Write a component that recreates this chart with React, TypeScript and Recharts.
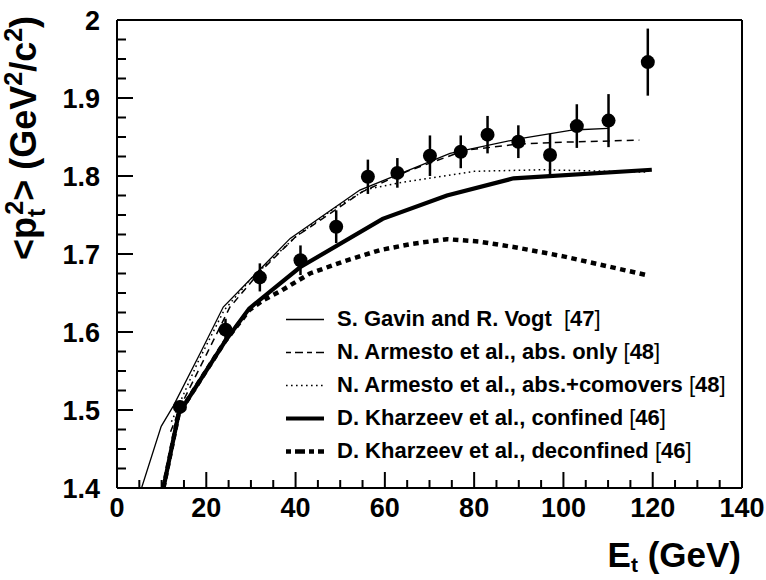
import React from 'react';
import {
  ComposedChart,
  Line,
  Scatter,
  XAxis,
  YAxis,
  ErrorBar,
  ReferenceLine,
  Legend,
} from 'recharts';

// ---- measured data (E_t in GeV, <pt^2> in GeV^2/c^2) ----
const measE = [14.1, 24.3, 32.0, 41.1, 49.1, 56.2, 62.8, 70.1, 77.0, 83.0, 89.9, 97.0, 103.0, 110.1, 118.9];
const measPt2 = [1.504, 1.603, 1.670, 1.692, 1.735, 1.799, 1.804, 1.826, 1.831, 1.853, 1.844, 1.827, 1.864, 1.871, 1.946];
const measErr = [0.008, 0.014, 0.018, 0.019, 0.021, 0.022, 0.019, 0.026, 0.021, 0.024, 0.021, 0.027, 0.028, 0.034, 0.043];

// ---- model curves ----
const gavinE = [5.5, 9.9, 12.6, 19.0, 23.8, 38.8, 54.4, 74.6, 90.3, 102.2, 110.0];
const gavinV = [1.400, 1.479, 1.505, 1.577, 1.632, 1.720, 1.782, 1.829, 1.848, 1.859, 1.861];

const absOnlyE = [12.0, 14.5, 19.5, 25.3, 32.0, 40.0, 55.0, 65.0, 78.0, 90.0, 98.0, 117.0];
const absOnlyV = [1.472, 1.508, 1.565, 1.632, 1.677, 1.722, 1.780, 1.806, 1.833, 1.841, 1.843, 1.846];

const absComE = [12.2, 18.0, 24.0, 30.0, 40.0, 48.5, 56.0, 64.0, 80.0, 95.0, 119.0];
const absComV = [1.485, 1.560, 1.628, 1.668, 1.722, 1.758, 1.783, 1.792, 1.806, 1.808, 1.805];

const confE = [10.4, 13.8, 24.2, 29.6, 41.0, 59.5, 73.9, 88.8, 119.8];
const confV = [1.400, 1.495, 1.588, 1.630, 1.683, 1.745, 1.775, 1.797, 1.808];

const deconfE = [10.4, 13.8, 24.2, 29.6, 32.8, 36.5, 43.2, 51.0, 58.9, 66.0, 73.9, 81.0, 88.8, 100.0, 118.6];
const deconfV = [1.400, 1.495, 1.588, 1.628, 1.641, 1.652, 1.675, 1.691, 1.705, 1.713, 1.719, 1.716, 1.709, 1.697, 1.673];

// ---- axis ticks ----
const xTicks = [0, 5, 10, 15, 20, 25, 30, 35, 40, 45, 50, 55, 60, 65, 70, 75, 80, 85, 90, 95, 100, 105, 110, 115, 120, 125, 130, 135, 140];
const xTickLabels = ['0', '20', '40', '60', '80', '100', '120', '140'];
const yTicks = [1.4, 1.425, 1.45, 1.475, 1.5, 1.525, 1.55, 1.575, 1.6, 1.625, 1.65, 1.675, 1.7, 1.725, 1.75, 1.775, 1.8, 1.825, 1.85, 1.875, 1.9, 1.925, 1.95, 1.975, 2.0];
const yTickLabels = ['1.4', '1.5', '1.6', '1.7', '1.8', '1.9', '2'];

const toPts = (xs: number[], ys: number[]) => xs.map((x, i) => ({ x, y: ys[i] }));
const measData = measE.map((x, i) => ({ x, y: measPt2[i], err: measErr[i] }));

const FONT = '"Liberation Sans", Arial, Helvetica, sans-serif';

type Curve = {
  key: string;
  label: string;
  ref: string;
  data: { x: number; y: number }[];
  width: number;
  dash?: string;
  legendDash?: string;
  gap?: string;
};

const curves: Curve[] = [
  { key: 'gv', label: 'S. Gavin and R. Vogt', gap: '  ', ref: '47', data: toPts(gavinE, gavinV), width: 1.3 },
  { key: 'ao', label: 'N. Armesto et al., abs. only', gap: ' ', ref: '48', data: toPts(absOnlyE, absOnlyV), width: 1.5, dash: '7 5', legendDash: '5 4 8 4' },
  { key: 'ac', label: 'N. Armesto et al., abs.+comovers', gap: ' ', ref: '48', data: toPts(absComE, absComV), width: 1.5, dash: '1.6 3.4', legendDash: '1.6 3.4' },
  { key: 'kc', label: 'D. Kharzeev et al., confined', gap: ' ', ref: '46', data: toPts(confE, confV), width: 4.2 },
  { key: 'kd', label: 'D. Kharzeev et al., deconfined', gap: ' ', ref: '46', data: toPts(deconfE, deconfV), width: 4.5, dash: '5.5 4.5', legendDash: '5 4 10 4' },
];

const isMajorX = (v: number) => Math.abs(v / 20 - Math.round(v / 20)) < 1e-6;
const isMajorY = (v: number) => Math.abs(v * 10 - Math.round(v * 10)) < 1e-6;

const XTick = (props: any) => {
  const { x, y, payload } = props;
  const v = payload.value as number;
  const major = isMajorX(v);
  const idx = Math.round(v / 20);
  return (
    <g>
      <line x1={x} x2={x} y1={y} y2={y - (major ? 16 : 8)} stroke="#000" strokeWidth={2} />
      {major && (
        <text x={x} y={y + 29} textAnchor="middle" fontFamily={FONT} fontWeight="bold" fontSize={27} fill="#000">
          {xTickLabels[idx]}
        </text>
      )}
    </g>
  );
};

const YTick = (props: any) => {
  const { x, y, payload } = props;
  const v = payload.value as number;
  const major = isMajorY(v);
  const idx = Math.round((v - 1.4) * 10);
  return (
    <g>
      <line x1={x} x2={x + (major ? 16 : 9)} y1={y} y2={y} stroke="#000" strokeWidth={2} />
      {major && (
        <text x={x - 17} y={y + 10} textAnchor="end" fontFamily={FONT} fontWeight="bold" fontSize={27} fill="#000">
          {yTickLabels[idx]}
        </text>
      )}
    </g>
  );
};

const XLabel = (props: any) => {
  const vb = props.viewBox || { x: 117, y: 488, width: 625, height: 92 };
  return (
    <text x={vb.x + vb.width - 1} y={vb.y + 79} textAnchor="end" fontFamily={FONT} fontWeight="bold" fontSize={35} fill="#000">
      <tspan>E</tspan>
      <tspan fontSize={21} dy={5}>t</tspan>
      <tspan dy={-5}> (GeV)</tspan>
    </text>
  );
};

const YLabel = (props: any) => {
  const vb = props.viewBox || { x: 0, y: 20, width: 117, height: 468 };
  const cx = vb.x + 36;
  const cy = vb.y + 118;
  return (
    <text
      transform={`rotate(-90 ${cx} ${cy})`}
      x={cx}
      y={cy}
      textAnchor="middle"
      fontFamily={FONT}
      fontWeight="bold"
      fontSize={36}
      fill="#000"
    >
      <tspan>{'<p'}</tspan>
      <tspan fontSize={25} dy={9}>t</tspan>
      <tspan fontSize={25} dx={-6} dy={-22}>2</tspan>
      <tspan dy={13}>{'> (GeV'}</tspan>
      <tspan fontSize={25} dy={-14}>2</tspan>
      <tspan dy={14}>/c</tspan>
      <tspan fontSize={25} dy={-14}>2</tspan>
      <tspan dy={14}>)</tspan>
    </text>
  );
};

const Dot = (props: any) => {
  const { cx, cy } = props;
  if (cx == null || cy == null) return null;
  return <circle cx={cx} cy={cy} r={7} fill="#000" />;
};

const LegendBox = () => (
  <div style={{ fontFamily: FONT, fontWeight: 'bold', fontSize: 22, color: '#000' }}>
    {curves.map((c) => (
      <div key={c.key} style={{ display: 'flex', alignItems: 'center', height: 33, whiteSpace: 'pre' }}>
        <svg width={57} height={33} style={{ display: 'block', flex: 'none' }}>
          <line
            x1={6}
            x2={44}
            y1={16.5}
            y2={16.5}
            stroke="#000"
            strokeWidth={c.width}
            strokeDasharray={c.legendDash || c.dash}
          />
        </svg>
        <span>
          {c.label}
          {c.gap}
          <span style={{ fontWeight: 'normal' }}>[</span>
          {c.ref}
          <span style={{ fontWeight: 'normal' }}>]</span>
        </span>
      </div>
    ))}
  </div>
);

export default function App() {
  return (
    <div style={{ position: 'absolute', left: 0, top: 0, width: 766, height: 580, background: '#fff' }}>
      <ComposedChart width={766} height={580} margin={{ top: 20, right: 24, left: 0, bottom: 0 }}>
        <XAxis
          type="number"
          dataKey="x"
          domain={[0, 140]}
          ticks={xTicks}
          interval={0}
          allowDataOverflow
          height={92}
          tickSize={0}
          tickMargin={0}
          tickLine={false}
          tick={<XTick />}
          axisLine={{ stroke: '#000', strokeWidth: 2 }}
          label={{ content: (p: any) => <XLabel {...p} /> }}
        />
        <YAxis
          type="number"
          dataKey="y"
          domain={[1.4, 2.0]}
          ticks={yTicks}
          interval={0}
          allowDataOverflow
          width={117}
          tickSize={0}
          tickMargin={0}
          tickLine={false}
          tick={<YTick />}
          axisLine={{ stroke: '#000', strokeWidth: 2 }}
          label={{ content: (p: any) => <YLabel {...p} /> }}
        />
        <ReferenceLine y={2.0} stroke="#000" strokeWidth={2} />
        <ReferenceLine x={140} stroke="#000" strokeWidth={2} />
        {curves.map((c) => (
          <Line
            key={c.key}
            data={c.data}
            dataKey="y"
            name={c.label}
            type="linear"
            stroke="#000"
            strokeWidth={c.width}
            strokeDasharray={c.dash}
            dot={false}
            activeDot={false}
            isAnimationActive={false}
          />
        ))}
        <Scatter data={measData} dataKey="y" shape={<Dot />} legendType="none" isAnimationActive={false}>
          <ErrorBar dataKey="err" direction="y" width={0} stroke="#000" strokeWidth={2.5} />
        </Scatter>
        <Legend
          layout="vertical"
          align="center"
          verticalAlign="middle"
          wrapperStyle={{ left: 280, top: 302.5, width: 470 }}
          content={() => <LegendBox />}
        />
      </ComposedChart>
    </div>
  );
}
